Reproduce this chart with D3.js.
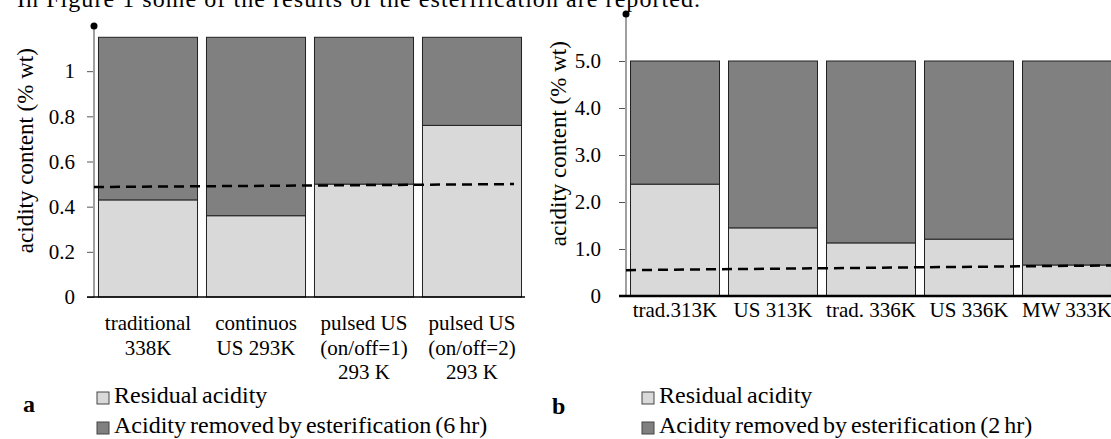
<!DOCTYPE html>
<html>
<head>
<meta charset="utf-8">
<script src="https://cdn.jsdelivr.net/npm/d3@7"></script>
<style>
  body { margin:0; background:#fff; }
  svg { display:block; }
  svg text { font-family:"Liberation Serif","Times New Roman",serif; }
</style>
</head>
<body>
<svg id="graph" width="1111" height="439"></svg>
<script>
// panel a
var catsA = [["traditional","338K"],["continuos","US 293K"],["pulsed US","(on/off=1)","293 K"],["pulsed US","(on/off=2)","293 K"]];
var residualA = [0.43, 0.36, 0.50, 0.76];
var removedA = [0.72, 0.79, 0.65, 0.39];
var limitA = [0.487, 0.50];
var ticksA = [0, 0.2, 0.4, 0.6, 0.8, 1];
var legendA = ["Residual acidity", "Acidity removed by esterification (6 hr)"];

// panel b
var catsB = [["trad.313K"],["US 313K"],["trad. 336K"],["US 336K"],["MW 333K"]];
var residualB = [2.38, 1.45, 1.13, 1.21, 0.66];
var removedB = [2.62, 3.55, 3.87, 3.79, 4.34];
var limitB = [0.55, 0.65];
var ticksB = [0, 1, 2, 3, 4, 5];
var legendB = ["Residual acidity", "Acidity removed by esterification (2 hr)"];

var light = "#d9d9d9", dark = "#808080";
var svg = d3.select("#graph");

svg.append("text")
  .attr("x", 17).attr("y", 7)
  .style("font-size", "24px")
  .attr("textLength", 683).attr("lengthAdjust", "spacing")
  .text("In Figure 1 some of  the results of the esterification are reported.");

var drawPanel = function(p) {
  var g = svg.append("g");
  var x = d3.scaleBand()
    .domain(d3.range(p.cats.length))
    .range([p.x0, p.x1])
    .paddingInner(p.pad).paddingOuter(p.pad / 2);
  var y = d3.scaleLinear().domain([0, p.ymax]).range([p.y0, p.ytop]);

  var rows = p.residual.map(function(r, i) { return {i:i, res:r, rem:p.removed[i]}; });

  g.selectAll(".res").data(rows).enter().append("rect")
    .attr("x", function(d) { return x(d.i); })
    .attr("y", function(d) { return y(d.res); })
    .attr("width", x.bandwidth())
    .attr("height", function(d) { return y(0) - y(d.res); })
    .attr("fill", light).attr("stroke", "#222").attr("stroke-width", 1);

  g.selectAll(".rem").data(rows).enter().append("rect")
    .attr("x", function(d) { return x(d.i); })
    .attr("y", function(d) { return y(d.res + d.rem); })
    .attr("width", x.bandwidth())
    .attr("height", function(d) { return y(d.res) - y(d.res + d.rem); })
    .attr("fill", dark).attr("stroke", "#222").attr("stroke-width", 1);

  // y axis
  var ax = g.append("g").attr("transform", "translate(" + p.x0 + ",0)")
    .call(d3.axisLeft(y).tickValues(p.ticks).tickSize(7).tickPadding(p.tpad)
      .tickFormat(p.fmt));
  ax.attr("font-family", null).attr("font-size", null);
  ax.select(".domain").remove();
  ax.selectAll(".tick line").attr("stroke", "#555");
  ax.selectAll(".tick text").style("font-size", "21px").attr("fill", "#000");
  g.append("line")
    .attr("x1", p.x0).attr("x2", p.x0)
    .attr("y1", y(0)).attr("y2", y(p.ymax))
    .attr("stroke", "#a0a0a0").attr("stroke-width", 2);
  g.append("circle").attr("cx", p.x0).attr("cy", y(p.ymax)).attr("r", 3.5).attr("fill", "#000");

  // x baseline
  g.append("line")
    .attr("x1", p.x0 - 7).attr("x2", p.xEnd)
    .attr("y1", y(0)).attr("y2", y(0))
    .attr("stroke", "#000").attr("stroke-width", p.baseW);

  // dashed limit
  g.append("line")
    .attr("x1", p.x0).attr("x2", p.dashEnd)
    .attr("y1", y(p.limit[0])).attr("y2", y(p.limit[1]))
    .attr("stroke", "#000").attr("stroke-width", 2.5)
    .attr("stroke-dasharray", "10,6");

  // category labels
  p.cats.forEach(function(lines, i) {
    var t = g.append("text")
      .attr("text-anchor", "middle")
      .style("font-size", "21px")
      .attr("y", p.labY);
    lines.forEach(function(s, j) {
      t.append("tspan")
        .attr("x", x(i) + x.bandwidth() / 2)
        .attr("dy", j === 0 ? 0 : 24.5)
        .text(s);
    });
  });

  // y title
  g.append("text")
    .attr("transform", "translate(" + p.titleX + "," + y(p.ymax * 0.54) + ") rotate(-90)")
    .attr("text-anchor", "middle").style("font-size", "23px")
    .text("acidity content (% wt)");

  // legend
  var lg = g.selectAll(".leg").data(p.legend).enter().append("g")
    .attr("transform", function(d, i) { return "translate(" + p.legX + "," + (403 + i * 30) + ")"; });
  lg.append("rect").attr("x", 0).attr("y", -11).attr("width", 12).attr("height", 12)
    .attr("fill", function(d, i) { return i === 0 ? light : dark; })
    .attr("stroke", "#444").attr("stroke-width", 1);
  lg.append("text").attr("x", 17).attr("y", 0).style("font-size", "24px")
    .style("word-spacing", "-2px").text(function(d) { return d; });

  svg.append("text").attr("x", p.letterX).attr("y", p.letterY)
    .style("font-size", "24px").attr("font-weight", "bold").text(p.letter);
};

drawPanel({cats:catsA, residual:residualA, removed:removedA, limit:limitA, ticks:ticksA, legend:legendA,
  x0:94, x1:526, pad:0.083, ymax:1.2, y0:297, ytop:26, fmt:d3.format("~g"), tpad:12,
  xEnd:525, baseW:1.5, dashEnd:514, labY:330, titleX:33, legX:97, letterX:23, letterY:412, letter:"a"});

drawPanel({cats:catsB, residual:residualB, removed:removedB, limit:limitB, ticks:ticksB, legend:legendB,
  x0:626, x1:1116, pad:0.092, ymax:6, y0:296, ytop:14, fmt:function(d) { return d === 0 ? "0" : d3.format(".1f")(d); }, tpad:18,
  xEnd:1111, baseW:2.5, dashEnd:1111, labY:317, titleX:566, legX:642, letterX:552, letterY:414, letter:"b"});
</script>
</body>
</html>
